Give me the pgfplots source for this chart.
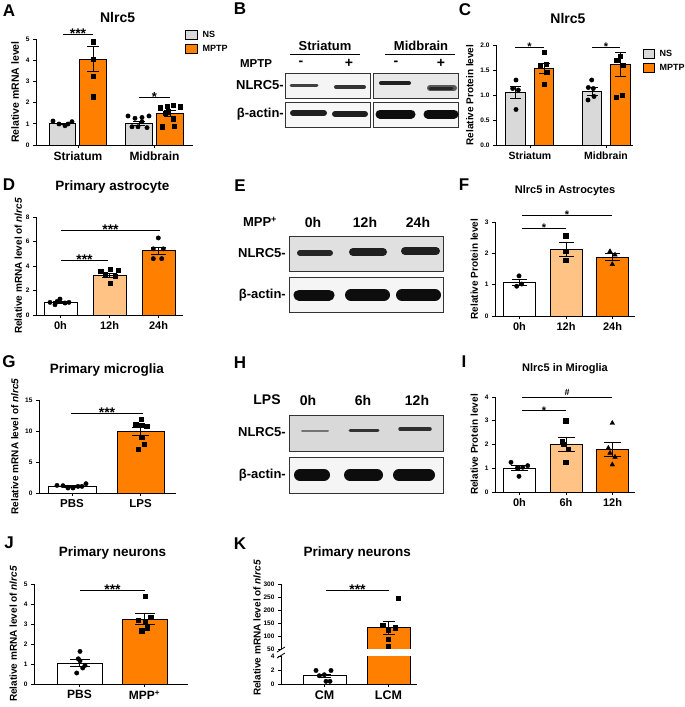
\documentclass[border=0pt]{standalone}
\usepackage{fontspec}
\setmainfont{Liberation Sans}
\usepackage{pgfplots}
\pgfplotsset{compat=1.18}
\definecolor{nsgray}{RGB}{217,217,217}
\definecolor{orng}{RGB}{255,128,0}
\definecolor{lorng}{RGB}{255,196,133}
\newcommand{\fs}[1]{\fontsize{#1}{#1}\selectfont\bfseries}
\pgfplotsset{
 gp/.style={anchor=south west, scale only axis, clip=false, axis lines=left,
   axis line style={-, line width=0.9pt}, tick align=outside, major tick length=3pt,
   tick style={line width=0.8pt, black}, ymin=0, scaled ticks=false,
   /pgf/number format/assume math mode=true,
   yticklabel style={font=\fs{6.5}}, ylabel style={font=\fs{10}},
   title style={font=\fs{13.5}, anchor=center}},
 bar/.style={ybar, bar shift=0pt, bar width=#1, draw=black, line width=0.8pt},
 eb/.style={/pgfplots/error bars/y dir=both, /pgfplots/error bars/y explicit,
   /pgfplots/error bars/error bar style={line width=0.8pt, draw=black},
   /pgfplots/error bars/error mark options={rotate=90, mark size=#1, line width=0.8pt, draw=black}},
 dots/.style={only marks, mark=*, mark size=2.2pt, black},
 sqs/.style={only marks, mark=square*, mark size=2.1pt, black},
 tris/.style={only marks, mark=triangle*, mark size=2.7pt, black},
 sigl/.style={black, line width=0.9pt, forget plot},
}
% x1 x2 xmid y text size
\newcommand{\sig}[6]{%
 \addplot[sigl] coordinates {(#1,#4) (#2,#4)};
 \node[font=\fs{#6}, anchor=base, inner sep=0pt, yshift={-0.3*#6pt}] at (axis cs:#3,#4) {#5};}
\newcommand{\band}[5]{\addplot[line width=#4pt, line cap=round, color=black!#5, forget plot] coordinates {(#1,#3) (#2,#3)};}
\newcommand{\letter}[3]{\node[font=\fs{17}] at (axis cs:#2,#3) {#1};}
\begin{document}
\begin{tikzpicture}
\path[use as bounding box] (0,0) rectangle (685pt,707pt);
% ---------------- overlay: letters, blots, legends ----------------
\begin{axis}[at={(0pt,0pt)}, anchor=south west, scale only axis, width=685pt, height=707pt,
  xmin=0, xmax=685, ymin=0, ymax=707, y dir=reverse, hide axis, clip=false]
\letter{A}{9}{11}
\letter{B}{240}{9}
\letter{C}{465}{10}
\letter{D}{9}{185}
\letter{E}{240}{186}
\letter{F}{464}{185}
\letter{G}{9}{362}
\letter{H}{240}{363}
\letter{I}{464}{362}
\letter{J}{9}{543}
\letter{K}{240}{544}
% legends
\draw[line width=0.8pt, fill=nsgray] (axis cs:185,30) rectangle (axis cs:197,39);
\draw[line width=0.8pt, fill=orng] (axis cs:185,44) rectangle (axis cs:197,53);
\node[font=\fs{9}, anchor=west] at (axis cs:199,34.5) {NS};
\node[font=\fs{9}, anchor=west] at (axis cs:199,48.5) {MPTP};
\draw[line width=0.8pt, fill=nsgray] (axis cs:643,49) rectangle (axis cs:654,58);
\draw[line width=0.8pt, fill=orng] (axis cs:643,63) rectangle (axis cs:654,72);
\node[font=\fs{9}, anchor=west] at (axis cs:656,53.5) {NS};
\node[font=\fs{9}, anchor=west] at (axis cs:656,67.5) {MPTP};
% ---- B blot
\node[font=\fs{13}] at (axis cs:325,46) {Striatum};
\draw[line width=1pt] (axis cs:290,54) -- (axis cs:360,54);
\node[font=\fs{13}] at (axis cs:421,46) {Midbrain};
\draw[line width=1pt] (axis cs:385,54) -- (axis cs:455,54);
\node[font=\fs{11.5}] at (axis cs:256,64) {MPTP};
\node[font=\fs{14}] at (axis cs:301,63) {-};
\node[font=\fs{14}] at (axis cs:349,63) {+};
\node[font=\fs{14}] at (axis cs:396,63) {-};
\node[font=\fs{14}] at (axis cs:441,63) {+};
\draw[line width=1pt, draw=black!80, fill=black!4] (axis cs:285,73) rectangle (axis cs:370,98);
\draw[line width=1pt, draw=black!80, fill=black!9] (axis cs:373,73) rectangle (axis cs:458,98);
\draw[line width=1pt, draw=black!80, fill=black!3] (axis cs:285,102) rectangle (axis cs:370,127);
\draw[line width=1pt, draw=black!80, fill=black!3] (axis cs:373,102) rectangle (axis cs:458,127);
\band{291}{317}{85}{3}{75}
\band{336}{364}{87}{4}{80}
\band{381}{409}{83}{4}{88}
\band{430}{454}{88}{6}{65}
\band{430}{452}{88}{3}{85}
\band{293}{324}{113}{6}{88}
\band{335}{365}{114}{6}{88}
\band{380}{411}{114}{9}{95}
\band{428}{454}{114}{9}{95}
\node[font=\fs{13}, anchor=east, inner sep=1pt] at (axis cs:285,85) {NLRC5-};
\node[font=\fs{13}, anchor=east, inner sep=1pt] at (axis cs:285,114) {β-actin-};
% ---- E blot
\node[font=\fs{13}] at (axis cs:260,222) {MPP\textsuperscript{+}};
\node[font=\fs{14}] at (axis cs:313,222) {0h};
\node[font=\fs{14}] at (axis cs:365,222) {12h};
\node[font=\fs{14}] at (axis cs:418,222) {24h};
\draw[line width=1pt, draw=black!80, fill=black!12] (axis cs:289,236) rectangle (axis cs:443,271);
\draw[line width=1pt, draw=black!80, fill=black!4] (axis cs:289,277) rectangle (axis cs:443,312);
\band{300}{330}{253}{6}{85}
\band{353}{383}{252}{8}{88}
\band{405}{436}{251}{8}{88}
\band{299}{329}{295}{11}{95}
\band{351}{384}{295}{12}{95}
\band{402}{435}{295}{12}{95}
\node[font=\fs{13}, anchor=east, inner sep=1pt] at (axis cs:287,253) {NLRC5-};
\node[font=\fs{13}, anchor=east, inner sep=1pt] at (axis cs:287,295) {β-actin-};
% ---- H blot
\node[font=\fs{14}] at (axis cs:267,400) {LPS};
\node[font=\fs{14}] at (axis cs:308,400) {0h};
\node[font=\fs{14}] at (axis cs:363,400) {6h};
\node[font=\fs{14}] at (axis cs:417,400) {12h};
\draw[line width=1pt, draw=black!80, fill=black!15] (axis cs:289,415) rectangle (axis cs:443,451);
\draw[line width=1pt, draw=black!80, fill=black!4] (axis cs:289,457) rectangle (axis cs:443,493);
\band{302}{328}{431}{2}{55}
\band{350}{378}{430}{3}{80}
\band{400}{430}{429}{3.5}{82}
\band{300}{324}{475}{12}{95}
\band{350}{377}{475}{12}{95}
\band{399}{429}{475}{12}{95}
\node[font=\fs{13}, anchor=east, inner sep=1pt] at (axis cs:287,432) {NLRC5-};
\node[font=\fs{13}, anchor=east, inner sep=1pt] at (axis cs:287,475) {β-actin-};
% K axis break and y label
\draw[line width=0.8pt] (axis cs:277,652) -- (axis cs:285,647);
\draw[line width=0.8pt] (axis cs:277,658) -- (axis cs:285,653);
\node[font=\fs{10}, rotate=90] at (axis cs:257,628) {Relative mRNA level of \textit{nlrc5}};
\end{axis}
% ---------------- A ----------------
\begin{axis}[gp, at={(36pt,562pt)}, width=157pt, height=106pt, xmin=36, xmax=193, ymax=5,
  ytick={0,1,2,3,4,5}, xtick={78,154.5}, xticklabels={Striatum,Midbrain},
  xticklabel style={font=\fs{12}}, ylabel={Relative mRNA level}, ylabel style={font=\fs{10.5}},
  title={Nlrc5}, title style={at={(axis description cs:0.52,1)}, yshift=16pt, font=\fs{14}}]
\addplot[bar=26.5, fill=nsgray, eb=6pt] coordinates {(62.5,1.00) +- (0,0.03)};
\addplot[bar=26.5, fill=orng, eb=6pt] coordinates {(93,4.06) +- (0,0.6)};
\addplot[bar=26.5, fill=nsgray, eb=6pt] coordinates {(139,1.02) +- (0,0.08)};
\addplot[bar=26.5, fill=orng, eb=6pt] coordinates {(170,1.49) +- (0,0.12)};
\addplot[dots] coordinates {(53,1.13) (59,0.99) (65,0.91) (68,0.99) (72,1.10)};
\addplot[sqs] coordinates {(93,4.87) (93,4.06) (93,3.24) (93,2.28)};
\addplot[dots] coordinates {(128,1.37) (135,1.26) (142,1.30) (149,1.37) (132,0.86) (138,0.86) (147,0.82) (142,1.10)};
\addplot[sqs] coordinates {(160,1.76) (167,1.84) (173,1.87) (180,1.81) (165,1.49) (168,1.57) (173,1.23) (162,0.86) (174,0.90)};
\sig{63}{93}{78}{5.22}{***}{14}
\sig{139}{170}{154.5}{2.25}{*}{13}
\end{axis}
% ---------------- C ----------------
\begin{axis}[gp, at={(496pt,562pt)}, width=137pt, height=100pt, xmin=496, xmax=633, ymax=2,
  ytick={0,0.5,1,1.5,2}, yticklabel style={/pgf/number format/.cd, fixed, fixed zerofill, precision=1},
  xtick={530,606}, xticklabels={Striatum,Midbrain}, xticklabel style={font=\fs{10.5}},
  ylabel={Relative Protein level},
  title={Nlrc5}, title style={at={(axis description cs:0.525,1)}, yshift=20pt, font=\fs{14}}]
\addplot[bar=19.5, fill=nsgray, eb=5.5pt] coordinates {(515.5,1.05) +- (0,0.12)};
\addplot[bar=19.5, fill=orng, eb=5.5pt] coordinates {(544,1.54) +- (0,0.10)};
\addplot[bar=19.5, fill=nsgray, eb=5.5pt] coordinates {(592,1.08) +- (0,0.08)};
\addplot[bar=19.5, fill=orng, eb=5.5pt] coordinates {(620.5,1.61) +- (0,0.24)};
\addplot[dots] coordinates {(516,1.30) (512.7,1.13) (518.3,1.10) (516,0.71)};
\addplot[sqs] coordinates {(544.3,1.85) (540,1.60) (546,1.62) (546.7,1.45) (544.3,1.21)};
\addplot[dots] coordinates {(591.7,1.30) (588.3,1.15) (593.3,1.13) (594,0.97) (588,0.90)};
\addplot[sqs] coordinates {(616.7,1.70) (620,1.78) (622.7,1.60) (616,0.95) (622,0.99)};
\sig{515}{544}{529.5}{1.95}{*}{11}
\sig{592}{620}{606}{1.95}{*}{11}
\end{axis}
% ---------------- D ----------------
\begin{axis}[gp, at={(36pt,392pt)}, width=147pt, height=98pt, xmin=36, xmax=183, ymax=8,
  ytick={0,2,4,6,8}, xtick={60.5,109.5,158.5}, xticklabels={0h,12h,24h}, xticklabel style={font=\fs{11}},
  ylabel={Relative mRNA level of \textit{nlrc5}}, ylabel shift=-3pt,
  title={Primary astrocyte}, title style={at={(axis description cs:0.52,1)}, yshift=24pt}]
\addplot[bar=33, fill=white, eb=7.5pt] coordinates {(60.5,1.00) +- (0,0.07)};
\addplot[bar=33, fill=lorng, eb=7.5pt] coordinates {(109.5,3.24) +- (0,0.16)};
\addplot[bar=33, fill=orng, eb=7.5pt] coordinates {(158.5,5.25) +- (0,0.30)};
\addplot[dots] coordinates {(50,1.03) (55,0.84) (60,1.30) (65,0.98) (69,1.03) (57,1.10)};
\addplot[sqs] coordinates {(100.7,3.56) (110,3.75) (118.3,3.65) (105,3.30) (115,3.15) (110,2.60)};
\addplot[dots] coordinates {(158.3,6.29) (153.3,5.40) (163.3,5.40) (153.3,4.60) (161.7,4.60)};
\sig{61}{160}{110.5}{6.91}{***}{14}
\sig{61}{108}{84.5}{4.49}{***}{14}
\end{axis}
% ---------------- F ----------------
\begin{axis}[gp, at={(495pt,391pt)}, width=140pt, height=94pt, xmin=495, xmax=635, ymax=3,
  ytick={0,1,2,3}, xtick={519.5,566,612.5}, xticklabels={0h,12h,24h}, xticklabel style={font=\fs{11}},
  ylabel={Relative Protein level},
  title={Nlrc5 in Astrocytes}, title style={at={(axis description cs:0.5,1)}, yshift=25pt, font=\fs{11}}]
\addplot[bar=32, fill=white, eb=7.5pt] coordinates {(519.5,1.08) +- (0,0.10)};
\addplot[bar=32, fill=lorng, eb=7.5pt] coordinates {(566,2.13) +- (0,0.23)};
\addplot[bar=32, fill=orng, eb=7.5pt] coordinates {(612.5,1.88) +- (0,0.12)};
\addplot[dots] coordinates {(519,1.28) (516.7,0.95) (521.7,1.02)};
\addplot[sqs] coordinates {(565.7,2.56) (565.7,2.06) (565.7,1.79)};
\addplot[tris] coordinates {(610,2.06) (615,1.95) (612.3,1.65)};
\sig{522}{612}{567}{3.22}{*}{11}
\sig{522}{566}{544}{2.79}{*}{11}
\end{axis}
% ---------------- G ----------------
\begin{axis}[gp, at={(39pt,214pt)}, width=137pt, height=93pt, xmin=39, xmax=176, ymax=15,
  ytick={0,5,10,15}, xtick={72,140.5}, xticklabels={PBS,LPS}, xticklabel style={font=\fs{11.5}},
  ylabel={Relative mRNA level of \textit{nlrc5}},
  title={Primary microglia}, title style={at={(axis description cs:0.495,1)}, yshift=24pt}]
\addplot[bar=48, fill=white, eb=8.5pt] coordinates {(72,1.07) +- (0,0.10)};
\addplot[bar=47, fill=orng, eb=8.5pt] coordinates {(140.5,9.9) +- (0,0.68)};
\addplot[dots] coordinates {(57,1.23) (63,1.18) (68,0.80) (73,0.80) (78,1.07) (82,1.07) (86,1.50)};
\addplot[sqs] coordinates {(141,11.9) (135.7,11.1) (146.7,10.8) (141.7,9.0) (144,7.9) (138.3,7.0) (141.7,10.9)};
\sig{71}{143}{107}{12.86}{***}{14}
\end{axis}
% ---------------- I ----------------
\begin{axis}[gp, at={(495pt,215pt)}, width=140pt, height=95pt, xmin=495, xmax=635, ymax=4,
  ytick={0,1,2,3,4}, xtick={519.5,566,612.5}, xticklabels={0h,6h,12h}, xticklabel style={font=\fs{11}},
  ylabel={Relative Protein level},
  title={Nlrc5 in Miroglia}, title style={at={(axis description cs:0.5,1)}, yshift=22pt, font=\fs{11}}]
\addplot[bar=32, fill=white, eb=8.5pt] coordinates {(519.5,1.01) +- (0,0.10)};
\addplot[bar=32, fill=lorng, eb=8.5pt] coordinates {(566,2.02) +- (0,0.29)};
\addplot[bar=32, fill=orng, eb=8.5pt] coordinates {(612.5,1.78) +- (0,0.30)};
\addplot[dots] coordinates {(511,1.25) (517.3,1.01) (522.7,1.04) (527.7,1.11) (519,0.66)};
\addplot[sqs] coordinates {(565.7,3.0) (563.3,2.0) (568.3,1.81) (565.7,1.25) (562.3,2.13)};
\addplot[tris] coordinates {(612.3,2.9) (610,1.64) (615,1.47) (612.3,1.15) (608.3,1.85)};
\addplot[sigl] coordinates {(522,4.0) (612,4.0)};
\node[font=\fs{9}, anchor=south, inner sep=0pt, yshift=1.5pt] at (axis cs:567,4.0) {\#};
\sig{522}{566}{544}{3.42}{*}{11}
\end{axis}
% ---------------- J ----------------
\begin{axis}[gp, at={(34pt,23pt)}, width=154pt, height=100pt, xmin=34, xmax=188, ymax=5,
  ytick={0,1,2,3,4,5}, xtick={79.5,144.5}, xticklabels={PBS,MPP\textsuperscript{+}}, xticklabel style={font=\fs{12}},
  ylabel={Relative mRNA level of \textit{nlrc5}},
  title={Primary neurons}, title style={at={(axis description cs:0.51,1)}, yshift=25pt}]
\addplot[bar=45, fill=white, eb=10pt] coordinates {(79.5,1.05) +- (0,0.16)};
\addplot[bar=45, fill=orng, eb=10pt] coordinates {(144.5,3.24) +- (0,0.27)};
\addplot[dots] coordinates {(80,1.63) (78.3,1.26) (80,1.16) (85,0.93) (82.7,0.80) (76.7,0.55)};
\addplot[sqs] coordinates {(145,4.40) (138.3,3.20) (145,3.12) (150.7,3.34) (147.3,2.82) (141.7,2.67)};
\sig{80}{145}{112.5}{4.7}{***}{14}
\end{axis}
% ---------------- K bottom ----------------
\begin{axis}[gp, at={(281pt,23pt)}, width=136pt, height=28pt, xmin=281, xmax=417, ymax=4,
  ytick={0,2,4}, xtick={324.5,388.5}, xticklabels={CM,LCM}, xticklabel style={font=\fs{12.5}}]
\addplot[bar=43, fill=white, eb=6pt] coordinates {(324.5,1.18) +- (0,0.22)};
\addplot[fill=orng, draw=black, line width=0.8pt] coordinates {(367,4) (367,0) (410,0) (410,4)};
\addplot[dots] coordinates {(316,1.93) (324.3,1.32) (331,1.93) (319.3,1.18) (326,0.38) (330,0.38)};
\end{axis}
% ---------------- K top ----------------
\begin{axis}[gp, at={(281pt,58pt)}, width=136pt, height=65pt, xmin=281, xmax=417, ymin=50, ymax=300,
  axis x line=none, xtick=\empty, ytick={50,100,150,200,250,300},
  title={Primary neurons}, title style={at={(axis description cs:0.56,1)}, yshift=25pt}]
\addplot[fill=orng, draw=black, line width=0.8pt] coordinates {(367,50) (367,132) (410,132) (410,50)};
\addplot[draw=none, mark=none, eb=6pt] coordinates {(388.5,132) +- (0,25)};
\addplot[sqs] coordinates {(398.3,245) (382.7,140) (395,132) (388.3,123) (388.3,88) (388.3,62)};
\sig{326}{389}{357.5}{274}{***}{14}
\end{axis}
\end{tikzpicture}
\end{document}
